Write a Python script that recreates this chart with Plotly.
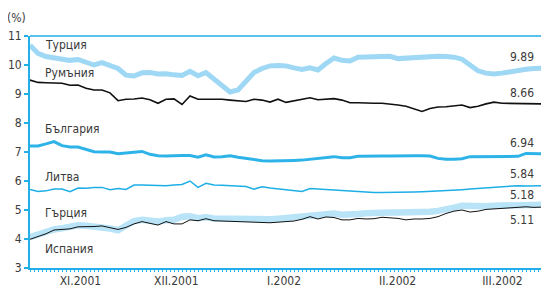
import plotly.graph_objects as go

# business-day index (every 2nd day sampled)
days = list(range(0, 129, 2))

turkey = [10.68, 10.40, 10.29, 10.26, 10.22, 10.16, 10.19, 10.08, 10.00, 10.08, 10.00, 9.88, 9.65, 9.62,
          9.73, 9.74, 9.69, 9.70, 9.66, 9.64, 9.78, 9.63, 9.74, 9.52, 9.28, 9.07, 9.14, 9.45, 9.74, 9.88,
          9.97, 9.98, 9.97, 9.90, 9.85, 9.90, 9.83, 10.05, 10.24, 10.16, 10.14, 10.27, 10.28, 10.26, 10.29,
          10.30, 10.22, 10.24, 10.24, 10.24, 10.30, 10.30, 10.29, 10.27, 10.20, 10.00, 9.80, 9.72, 9.69,
          9.72, 9.77, 9.84, 9.85, 9.88, 9.89]
romania = [9.48, 9.40, 9.39, 9.39, 9.37, 9.30, 9.31, 9.20, 9.14, 9.14, 9.04, 8.77, 8.82, 8.83, 8.86, 8.80,
           8.68, 8.82, 8.83, 8.64, 8.93, 8.82, 8.82, 8.82, 8.82, 8.79, 8.76, 8.74, 8.82, 8.79, 8.72, 8.82,
           8.71, 8.76, 8.80, 8.87, 8.80, 8.82, 8.84, 8.79, 8.70, 8.70, 8.68, 8.68, 8.68, 8.66, 8.62, 8.58,
           8.50, 8.40, 8.50, 8.55, 8.56, 8.58, 8.62, 8.53, 8.58, 8.66, 8.72, 8.68, 8.68, 8.68, 8.67, 8.66, 8.66]
bulgaria = [7.21, 7.21, 7.28, 7.36, 7.22, 7.17, 7.17, 7.08, 7.01, 7.00, 7.00, 6.94, 6.96, 7.00, 7.02, 6.92,
            6.87, 6.86, 6.88, 6.88, 6.88, 6.82, 6.90, 6.83, 6.84, 6.87, 6.82, 6.78, 6.74, 6.70, 6.69, 6.69,
            6.69, 6.71, 6.72, 6.75, 6.78, 6.81, 6.84, 6.80, 6.80, 6.85, 6.86, 6.86, 6.86, 6.86, 6.87, 6.87,
            6.87, 6.87, 6.86, 6.78, 6.75, 6.75, 6.77, 6.84, 6.84, 6.84, 6.84, 6.84, 6.84, 6.85, 6.95, 6.94, 6.94]
lithuania = [5.71, 5.64, 5.66, 5.72, 5.72, 5.63, 5.76, 5.75, 5.78, 5.78, 5.70, 5.74, 5.71, 5.86, 5.86, 5.85,
             5.85, 5.84, 5.86, 5.88, 6.00, 5.78, 5.92, 5.86, 5.85, 5.83, 5.82, 5.81, 5.72, 5.80, 5.76, 5.73,
             5.70, 5.68, 5.64, 5.74, 5.72, 5.70, 5.68, 5.66, 5.64, 5.62, 5.61, 5.60, 5.60, 5.60, 5.60, 5.61,
             5.62, 5.63, 5.64, 5.65, 5.67, 5.68, 5.70, 5.72, 5.74, 5.76, 5.78, 5.80, 5.83, 5.84, 5.83, 5.84, 5.84]
greece = [4.06, 4.15, 4.26, 4.33, 4.37, 4.42, 4.47, 4.46, 4.44, 4.42, 4.36, 4.30, 4.45, 4.62, 4.66, 4.62,
          4.60, 4.65, 4.66, 4.77, 4.78, 4.72, 4.75, 4.71, 4.70, 4.69, 4.68, 4.67, 4.66, 4.66, 4.68, 4.70,
          4.73, 4.76, 4.78, 4.84, 4.86, 4.89, 4.88, 4.84, 4.83, 4.86, 4.89, 4.91, 4.91, 4.91, 4.91, 4.91,
          4.92, 4.93, 4.94, 4.97, 5.01, 5.08, 5.15, 5.13, 5.11, 5.13, 5.15, 5.15, 5.16, 5.17, 5.17, 5.18, 5.18]
spain = [3.99, 4.08, 4.18, 4.31, 4.32, 4.35, 4.42, 4.42, 4.43, 4.45, 4.40, 4.33, 4.40, 4.52, 4.60, 4.54,
         4.48, 4.60, 4.52, 4.52, 4.66, 4.63, 4.70, 4.63, 4.62, 4.60, 4.60, 4.59, 4.58, 4.57, 4.56, 4.58,
         4.60, 4.62, 4.68, 4.77, 4.69, 4.76, 4.74, 4.66, 4.66, 4.71, 4.69, 4.70, 4.75, 4.73, 4.71, 4.66,
         4.69, 4.69, 4.71, 4.77, 4.88, 4.96, 5.00, 4.93, 4.96, 5.02, 5.04, 5.05, 5.06, 5.08, 5.11, 5.09, 5.10]

month_pos = [12.6, 36.6, 63.5, 91.9, 118.1]
month_labels = ["XI.2001", "XII.2001", "I.2002", "II.2002", "III.2002"]

names = ["Турция", "Румъния", "България", "Литва", "Гърция", "Испания"]
name_y = [10.69, 9.72, 7.79, 6.14, 4.91, 3.66]
end_labels = ["9.89", "8.66", "6.94", "5.84", "5.18", "5.11"]
end_y = [10.28, 9.03, 7.31, 6.24, 5.52, 4.66]

FONT = "Liberation Sans Narrow, DejaVu Sans Condensed, Arial Narrow, sans-serif"
TXT = "#3a3a3a"
AX = "#22aee6"

fig = go.Figure()
styles = [
    (greece, "#b9e4f7", 6.5),
    (turkey, "#9fd8f4", 5),
    (bulgaria, "#2db3e7", 3),
    (lithuania, "#1eaee6", 1.5),
    (romania, "#111111", 1.6),
    (spain, "#111111", 1.0),
]
for ys, col, w in styles:
    fig.add_trace(go.Scatter(x=days, y=ys, mode="lines",
                             line=dict(color=col, width=w), hoverinfo="skip"))

for n, yy in zip(names, name_y):
    fig.add_annotation(x=3.25, y=yy, text=n, showarrow=False, xanchor="left", yanchor="middle",
                       font=dict(family=FONT, size=12, color=TXT))
for t, yy in zip(end_labels, end_y):
    fig.add_annotation(x=126.6, y=yy, text=t, showarrow=False, xanchor="right", yanchor="middle",
                       font=dict(family=FONT, size=12, color=TXT))
fig.add_annotation(x=0, y=1.078, xref="paper", yref="paper", text="(%)", showarrow=False,
                   xanchor="right", yanchor="middle", xshift=-2,
                   font=dict(family=FONT, size=12, color=TXT))

# top and right frame
fig.add_shape(type="line", xref="paper", yref="paper", x0=0, x1=1, y0=1, y1=1,
              line=dict(color=AX, width=1.5))
fig.add_shape(type="line", xref="paper", yref="paper", x0=1, x1=1, y0=0, y1=1,
              line=dict(color=AX, width=1.5))

# page body has an 8px margin, so the figure is sized to fill the rest of the window
fig.update_layout(
    width=541, height=280, margin=dict(l=22, r=7, t=28, b=20),
    paper_bgcolor="white", plot_bgcolor="white", showlegend=False,
    font=dict(family=FONT, size=12, color=TXT),
    xaxis=dict(range=[0, 128], showgrid=False, zeroline=False, showline=True, linecolor=AX,
               linewidth=2, tickmode="array", tickvals=month_pos, ticktext=month_labels,
               ticks="", ticklabelstandoff=1, automargin=False,
               minor=dict(ticks="outside", dtick=1, tick0=0, ticklen=2, tickcolor=AX, tickwidth=1)),
    yaxis=dict(range=[3, 11], showgrid=False, zeroline=False, showline=True, linecolor=AX,
               linewidth=2, dtick=1, ticks="outside", ticklen=4, tickcolor=AX, tickwidth=1.5,
               automargin=False),
)

fig.write_html("out.html")
